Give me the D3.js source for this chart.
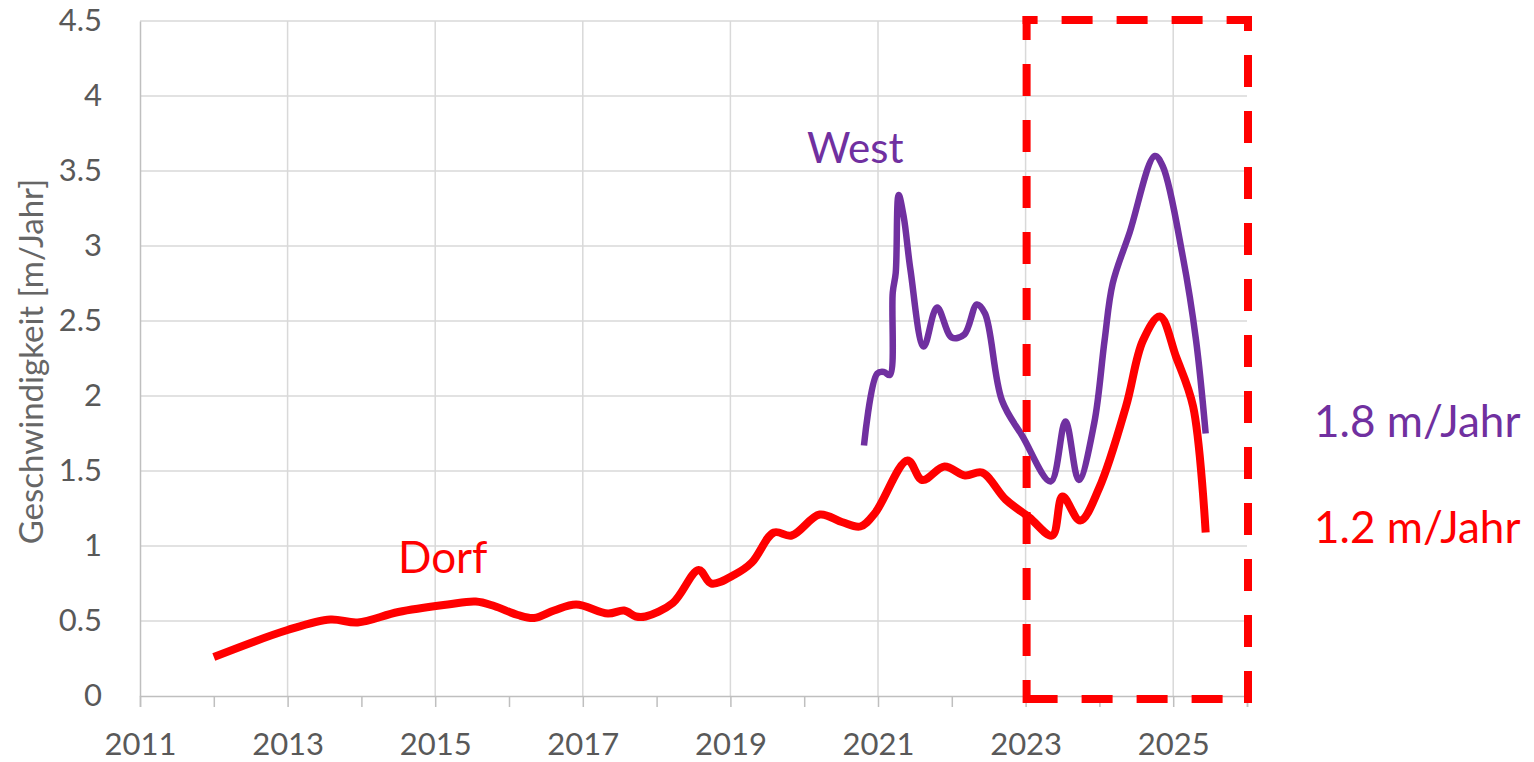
<!DOCTYPE html>
<html>
<head>
<meta charset="utf-8">
<script src="https://cdn.jsdelivr.net/npm/d3@7"></script>
<style>
  body { margin: 0; background: #fff; }
  svg { display: block; font-family: Lato, "Open Sans", sans-serif; }
</style>
</head>
<body>
<div id="container"></div>
<script>
// Dorf series (red)
const dorfYears = [2012.0, 2013.0, 2013.58, 2013.95, 2014.5, 2015.17, 2015.55, 2015.8, 2016.12, 2016.34,
    2016.61, 2016.91, 2017.34, 2017.56, 2017.72, 2017.85, 2018.22, 2018.57, 2018.74, 2019.06,
    2019.29, 2019.59, 2019.83, 2020.21, 2020.51, 2020.76, 2020.96, 2021.4, 2021.6, 2021.9,
    2022.18, 2022.41, 2022.73, 2023.05, 2023.36, 2023.5, 2023.74, 2024.0, 2024.36, 2024.59,
    2024.82, 2025.04, 2025.27, 2025.44];
const dorfValues = [0.26, 0.44, 0.51, 0.49, 0.56, 0.61, 0.63, 0.60, 0.54, 0.52,
    0.57, 0.61, 0.55, 0.57, 0.53, 0.53, 0.62, 0.84, 0.75, 0.81,
    0.89, 1.09, 1.07, 1.21, 1.16, 1.13, 1.22, 1.57, 1.44, 1.53,
    1.47, 1.49, 1.31, 1.19, 1.07, 1.33, 1.17, 1.39, 1.93, 2.37,
    2.53, 2.26, 1.93, 1.09];

// West series (purple)
const westYears = [2020.81, 2020.99, 2021.08, 2021.16, 2021.2, 2021.24, 2021.28, 2021.35, 2021.44, 2021.62,
    2021.8, 2022.0, 2022.17, 2022.34, 2022.45, 2022.68, 2022.96, 2023.34, 2023.54, 2023.72,
    2023.93, 2024.07, 2024.18, 2024.41, 2024.75, 2024.86, 2025.13, 2025.31, 2025.44];
const westValues = [1.67, 2.15, 2.16, 2.14, 2.69, 2.82, 3.34, 3.19, 2.84, 2.33,
    2.59, 2.39, 2.41, 2.61, 2.55, 1.97, 1.73, 1.43, 1.83, 1.44,
    1.82, 2.37, 2.75, 3.09, 3.6, 3.53, 2.93, 2.37, 1.75];

const yearTicks = d3.range(2011, 2027);
const yTicks = [0, 0.5, 1, 1.5, 2, 2.5, 3, 3.5, 4, 4.5];
const yTitle = 'Geschwindigkeit [m/Jahr]';
const highlightFrom = 2023;

const width = 1534;
const height = 762;
const red = '#ff0000';
const purple = '#7030a0';
const grey = '#595959';

const svg = d3.select('#container').append('svg')
    .attr('width', width)
    .attr('height', height);

const x = d3.scaleLinear().domain([2011, 2026]).range([140, 1247]);
const y = d3.scaleLinear().domain([0, 4.5]).range([696, 21]);

// horizontal gridlines
svg.append('g')
    .selectAll('line')
    .data(yTicks.filter(d => d > 0))
    .enter().append('line')
    .attr('x1', x(2011)).attr('x2', x(2026))
    .attr('y1', d => y(d)).attr('y2', d => y(d))
    .attr('stroke', '#d9d9d9')
    .attr('stroke-width', 1.5);

// vertical gridlines at labelled years
svg.append('g')
    .selectAll('line')
    .data(yearTicks.filter(d => d % 2 === 1 && d > 2011))
    .enter().append('line')
    .attr('x1', d => x(d)).attr('x2', d => x(d))
    .attr('y1', y(4.5)).attr('y2', y(0))
    .attr('stroke', '#d9d9d9')
    .attr('stroke-width', 1.5);

// x axis
const xAxis = d3.axisBottom(x)
    .tickValues(yearTicks)
    .tickSize(11)
    .tickFormat(d => d % 2 === 1 ? d : '');
const gx = svg.append('g')
    .attr('transform', `translate(0,${y(0)})`)
    .call(xAxis);
gx.select('.domain').attr('stroke', '#bfbfbf').attr('stroke-width', 1.5);
gx.selectAll('.tick line').attr('stroke', '#bfbfbf').attr('stroke-width', 1.5);
gx.selectAll('.tick text')
    .attr('y', 59)
    .attr('dy', 0)
    .attr('fill', grey)
    .style('font-size', '31px')
    .style('font-family', 'Lato, sans-serif');

// y axis
const yAxis = d3.axisLeft(y)
    .tickValues(yTicks)
    .tickSize(0)
    .tickPadding(38)
    .tickFormat(d => d);
const gy = svg.append('g')
    .attr('transform', `translate(${x(2011)},0)`)
    .call(yAxis);
gy.select('.domain').attr('stroke', '#bfbfbf').attr('stroke-width', 1.5);
gy.selectAll('.tick text')
    .attr('fill', grey)
    .style('font-size', '31px')
    .style('font-family', 'Lato, sans-serif');

svg.append('text')
    .attr('transform', `translate(43,${(y(0) + y(4.5)) / 2 + 3}) rotate(-90)`)
    .attr('text-anchor', 'middle')
    .attr('fill', '#666')
    .style('font-size', '33px')
    .text(yTitle);

// lines
const line = d3.line()
    .x(d => x(d[0]))
    .y(d => y(d[1]))
    .curve(d3.curveCatmullRom.alpha(0.5));

const dorf = dorfYears.map((yr, i) => [yr, dorfValues[i]]);
const west = westYears.map((yr, i) => [yr, westValues[i]]);

svg.append('path')
    .datum(dorf)
    .attr('d', line)
    .attr('fill', 'none')
    .attr('stroke', red)
    .attr('stroke-width', 8)
    .attr('stroke-linejoin', 'round');

svg.append('path')
    .datum(west)
    .attr('d', line)
    .attr('fill', 'none')
    .attr('stroke', purple)
    .attr('stroke-width', 6.5)
    .attr('stroke-linejoin', 'round');

// dashed highlight box over the last years, dashes built as small rects
function dashes(start, end, first, dash, gap) {
    const out = [[start, start + first]];
    let p = start + first + gap;
    while (p < end) {
        out.push([p, Math.min(p + dash, end)]);
        p += dash + gap;
    }
    return out;
}
const bx0 = x(highlightFrom) + 1, bx1 = x(2026) + 1;
const by0 = y(4.5) - 1, by1 = y(0) + 3;
const sw = 8;
const boxDashes = [].concat(
    dashes(bx0 - 4, bx1 + 4, 15, 31, 24).map(s => ({ x: s[0], y: by0 - 4, w: s[1] - s[0], h: sw })),
    dashes(by0 - 4, by1 + 4, 15, 32, 24).map(s => ({ x: bx1 - 4, y: s[0], w: sw, h: s[1] - s[0] })),
    dashes(by0 - 4, by1 + 4, 24, 32, 24).map(s => ({ x: bx0 - 4, y: s[0], w: sw, h: s[1] - s[0] })),
    dashes(bx0, bx1 - 2, 31, 31, 24).map(s => ({ x: s[0], y: by1 - 4, w: s[1] - s[0], h: sw }))
);
svg.append('g')
    .selectAll('rect')
    .data(boxDashes)
    .enter().append('rect')
    .attr('x', d => d.x).attr('y', d => d.y)
    .attr('width', d => d.w).attr('height', d => d.h)
    .attr('fill', red);

// labels
svg.append('text')
    .attr('x', 807).attr('y', 163)
    .attr('fill', purple)
    .style('font-size', '42px')
    .text('West');

svg.append('text')
    .attr('x', 398).attr('y', 573)
    .attr('fill', red)
    .style('font-size', '44px')
    .text('Dorf');

svg.append('text')
    .attr('x', 1314).attr('y', 437)
    .attr('fill', purple)
    .style('font-size', '44px')
    .text('1.8 m/Jahr');

svg.append('text')
    .attr('x', 1314).attr('y', 543)
    .attr('fill', red)
    .style('font-size', '44px')
    .text('1.2 m/Jahr');
</script>
</body>
</html>
